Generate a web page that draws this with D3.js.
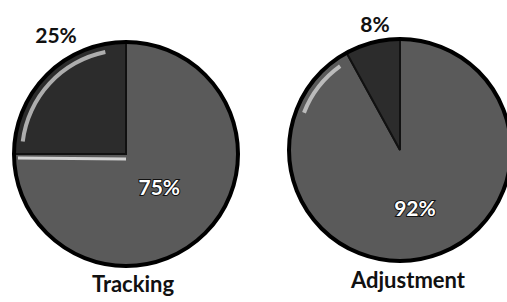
<!DOCTYPE html>
<html>
<head>
<meta charset="utf-8">
<script src="https://cdn.jsdelivr.net/npm/d3@7"></script>
<style>
  body { margin: 0; background: #fff; }
  text { font-family: Lato, "Open Sans", sans-serif; font-weight: bold; }
</style>
</head>
<body>
<svg id="chart" width="507" height="302"></svg>
<script>
// pie titles and shares (big slice first so the small one ends at 12 o'clock)
const titles = ["Tracking", "Adjustment"];
const trackingValues = [75, 25];
const adjustmentValues = [92, 8];
const labelText = ["75%", "25%", "92%", "8%"];

// layout for each pie: centre, radius, label placement and the scanned "bevel" glint
const layout = [
  { cx: 126, cy: 154, r: 112, outDx: -70, outDy: -111, inR: 0.42, titleX: 133, titleY: 292,
    glint: [-1.45, -0.2], edgeLine: true },
  { cx: 400, cy: 150, r: 111, outDx: -25, outDy: -118, inR: 0.54, titleX: 408, titleY: 288,
    glint: [-1.2, -0.62], edgeLine: false }
];

var svg = d3.select('#chart');
var fills = ["#5a5a5a", "#2c2c2c"];

var pie = d3.pie().sort(null).value(d => d);
var allValues = [trackingValues, adjustmentValues];

allValues.forEach(function(vals, i) {
  var L = layout[i];
  var g = svg.append('g').attr('transform', `translate(${L.cx}, ${L.cy})`);
  var arc = d3.arc().innerRadius(0).outerRadius(L.r);
  var arcs = pie(vals);

  g.selectAll('path.slice')
    .data(arcs)
    .enter().append('path')
    .attr('class', 'slice')
    .attr('d', arc)
    .attr('fill', (d, j) => fills[j])
    .attr('stroke', '#111')
    .attr('stroke-width', 2);

  // light glint near the rim
  var hi = d3.arc().innerRadius(L.r - 10).outerRadius(L.r - 6)
    .startAngle(L.glint[0]).endAngle(L.glint[1]);
  g.append('path').attr('d', hi()).attr('fill', '#e4e4e4').attr('opacity', 0.7);

  if (L.edgeLine) {
    var a0 = arcs[1].startAngle;
    g.append('line')
      .attr('x1', Math.sin(a0) * (L.r - 4)).attr('y1', -Math.cos(a0) * (L.r - 4) + 4)
      .attr('x2', 0).attr('y2', 5)
      .attr('stroke', '#f0f0f0').attr('stroke-width', 3).attr('opacity', 0.8);
  }

  g.append('circle').attr('r', L.r).attr('fill', 'none')
    .attr('stroke', '#000').attr('stroke-width', 4);

  // outside label for the small slice
  g.append('text')
    .attr('x', L.outDx).attr('y', L.outDy)
    .attr('text-anchor', 'middle')
    .attr('font-size', '21px')
    .attr('fill', '#111')
    .text(labelText[i * 2 + 1]);

  // inside label for the big slice
  var inArc = d3.arc().innerRadius(L.r * L.inR).outerRadius(L.r * L.inR);
  var c = inArc.centroid(arcs[0]);
  g.append('text')
    .attr('x', c[0]).attr('y', c[1] + 8)
    .attr('text-anchor', 'middle')
    .attr('font-size', '21px')
    .attr('fill', '#fff')
    .attr('stroke', '#111').attr('stroke-width', 2)
    .attr('paint-order', 'stroke')
    .text(labelText[i * 2]);

  svg.append('text')
    .attr('x', L.titleX).attr('y', L.titleY)
    .attr('text-anchor', 'middle')
    .attr('font-size', '22px')
    .attr('fill', '#111')
    .text(titles[i]);
});
</script>
</body>
</html>
